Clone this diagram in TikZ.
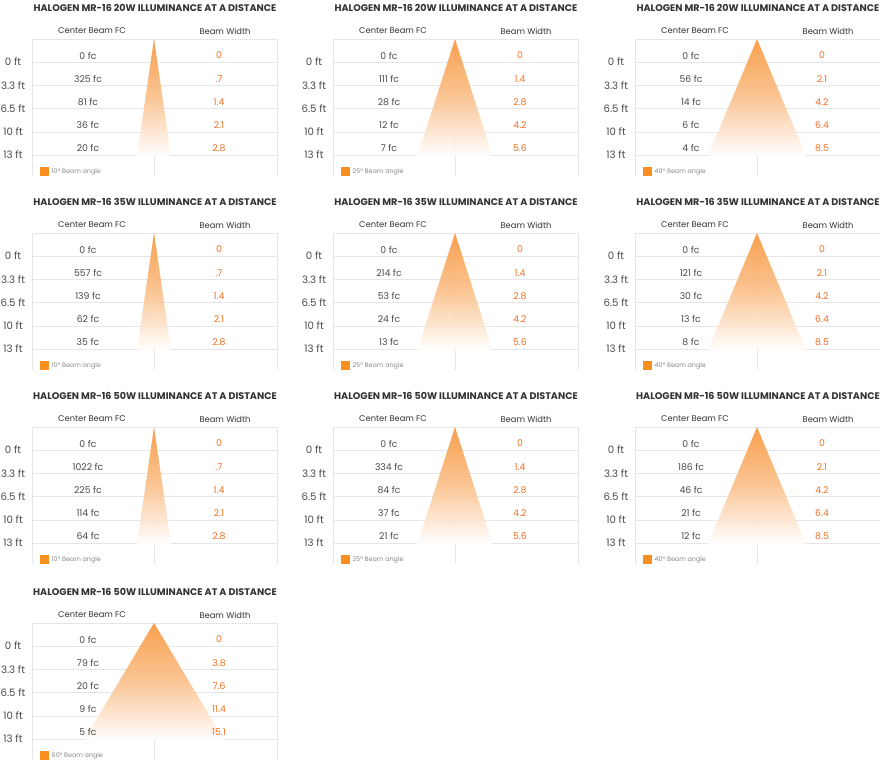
\documentclass[tikz,border=0pt]{standalone}
\usepackage{fontspec}
\setmainfont{Poppins}
\definecolor{titlecol}{HTML}{333333}
\definecolor{textcol}{HTML}{4A4A4A}
\definecolor{bwcol}{HTML}{F37021}
\definecolor{gridcol}{HTML}{E6E6E6}
\definecolor{beamtop}{HTML}{F8963C}
\definecolor{legcol}{HTML}{F7901E}
\definecolor{legtextcol}{HTML}{8A8A8A}
\tikzset{
  gridline/.style={draw=gridcol, line width=0.8pt},
  beamfill/.style={top color=beamtop, bottom color=white, middle color=beamtop!60, opacity=0.9},
  titlestyle/.style={font=\bfseries\fontsize{9.6}{11}\selectfont, text=titlecol, inner sep=0pt},
  headstyle/.style={font=\fontsize{8.3}{10}\selectfont, text=titlecol, inner sep=0pt},
  rowstyle/.style={font=\fontsize{10.2}{12}\selectfont, text=textcol, inner sep=0pt},
  valstyle/.style={font=\fontsize{9.3}{11}\selectfont, text=textcol, inner sep=0pt},
  bwstyle/.style={font=\fontsize{9.3}{11}\selectfont, text=bwcol, inner sep=0pt},
  legbox/.style={fill=legcol, minimum size=8.5pt, inner sep=0pt, draw=none},
  legtext/.style={font=\fontsize{6.4}{8}\selectfont, text=legtextcol, inner sep=0pt, anchor=west},
}
\newcommand{\halpanel}[7]{%
  \begin{scope}[shift={(#2,#3)}]
    \foreach \yy in {39,62,85,108,132,155} \draw[gridline] (32,\yy) -- (277,\yy);
    \draw[gridline] (32,39) -- (32,176);
    \draw[gridline] (154,39) -- (154,176);
    \draw[gridline] (277,39) -- (277,176);
    \coordinate (#1apex) at (154,39);
    \coordinate (#1bl) at ({154-#5},156);
    \coordinate (#1br) at ({154+#5},156);
    \shade[beamfill] (#1apex) -- (#1bl) -- (#1br) -- cycle;
    \node[titlestyle] (#1title) at (155,8) {HALOGEN MR-16 #4W ILLUMINANCE AT A DISTANCE};
    \node[headstyle] (#1ha) at (92,31) {Center Beam FC};
    \node[headstyle] (#1hb) at (225,31) {Beam Width};
    \foreach \dist [count=\ri] in {0,3.3,6.5,10,13}
      \node[rowstyle] (#1d\ri) at (13,{62+23.25*(\ri-1)}) {\dist\ ft};
    \foreach \fcv/\bwv [count=\ri] in {#7} {
      \node[valstyle] (#1f\ri) at (88,{55.5+23.2*(\ri-1)}) {\fcv\ fc};
      \node[bwstyle] (#1w\ri) at (219,{55.5+23.2*(\ri-1)}) {\bwv};
    }
    \node[legbox] (#1sq) at (44.5,171.5) {};
    \node[legtext] (#1leg) at (51.5,172) {#6° Beam angle};
  \end{scope}}
\begin{document}
\begin{tikzpicture}[x=1pt,y=-1pt]
  \useasboundingbox[fill=white] (0,0) rectangle (880,760);
  \halpanel{a}{0}{0}{20}{17}{10}{0/0,325/.7,81/1.4,36/2.1,20/2.8}
  \halpanel{b}{301}{0}{20}{37.5}{25}{0/0,111/1.4,28/2.8,12/4.2,7/5.6}
  \halpanel{c}{603}{0}{20}{49}{40}{0/0,56/2.1,14/4.2,6/6.4,4/8.5}
  \halpanel{d}{0}{194}{35}{17}{10}{0/0,557/.7,139/1.4,62/2.1,35/2.8}
  \halpanel{e}{301}{194}{35}{37.5}{25}{0/0,214/1.4,53/2.8,24/4.2,13/5.6}
  \halpanel{f}{603}{194}{35}{49}{40}{0/0,121/2.1,30/4.2,13/6.4,8/8.5}
  \halpanel{g}{0}{388}{50}{17}{10}{0/0,1022/.7,225/1.4,114/2.1,64/2.8}
  \halpanel{h}{301}{388}{50}{37.5}{25}{0/0,334/1.4,84/2.8,37/4.2,21/5.6}
  \halpanel{i}{603}{388}{50}{49}{40}{0/0,186/2.1,46/4.2,21/6.4,12/8.5}
  \halpanel{j}{0}{584}{50}{70}{60}{0/0,79/3.8,20/7.6,9/11.4,5/15.1}
\end{tikzpicture}
\end{document}
